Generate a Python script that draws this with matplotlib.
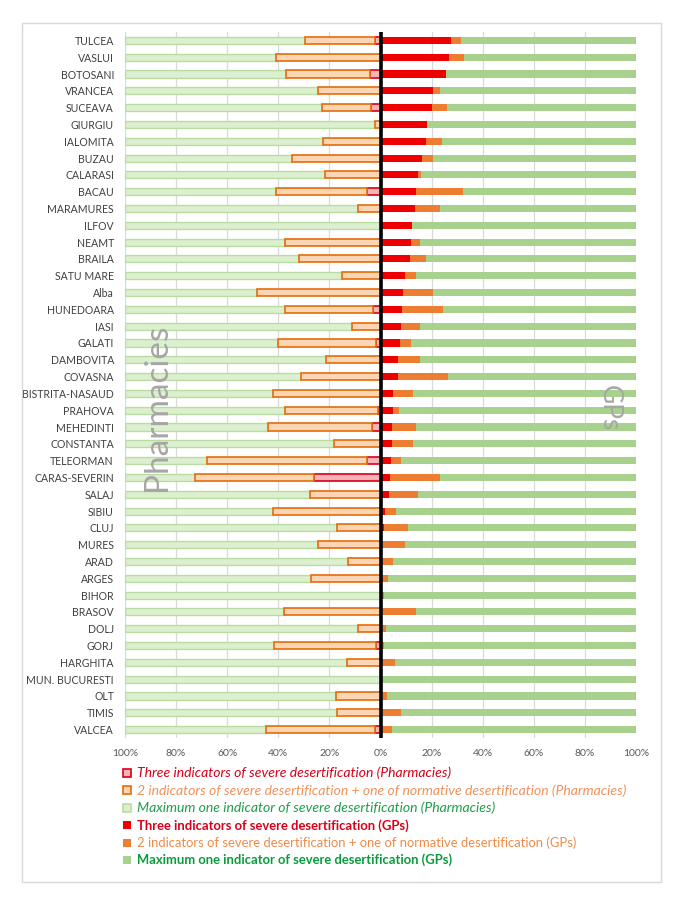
import matplotlib
matplotlib.use("Agg")
import matplotlib.pyplot as plt
from matplotlib.patches import Rectangle
import numpy as np

plt.rcParams['font.family'] = ['Lato', 'DejaVu Sans']

counties = ["TULCEA", "VASLUI", "BOTOSANI", "VRANCEA", "SUCEAVA", "GIURGIU", "IALOMITA",
            "BUZAU", "CALARASI", "BACAU", "MARAMURES", "ILFOV", "NEAMT", "BRAILA",
            "SATU MARE", "Alba", "HUNEDOARA", "IASI", "GALATI", "DAMBOVITA", "COVASNA",
            "BISTRITA-NASAUD", "PRAHOVA", "MEHEDINTI", "CONSTANTA", "TELEORMAN",
            "CARAS-SEVERIN", "SALAJ", "SIBIU", "CLUJ", "MURES", "ARAD", "ARGES", "BIHOR",
            "BRASOV", "DOLJ", "GORJ", "HARGHITA", "MUN. BUCURESTI", "OLT", "TIMIS", "VALCEA"]

# pharmacies (% of localities)
ph_three = [2.3, 0, 4.1, 0, 3.8, 0, 0, 0, 0, 5.4, 0, 0, 0, 0, 0, 0, 3.1, 0, 1.6, 0, 0,
            0, 1.0, 3.3, 0, 5.1, 26.0, 0, 0, 0, 0, 0, 0, 0, 0, 0, 1.6, 0, 0, 0, 0, 2.3]
ph_two = [27.2, 40.9, 33.0, 24.6, 19.0, 2.0, 22.7, 34.6, 21.8, 35.5, 8.7, 0, 37.4, 32.0,
          15.1, 48.4, 34.4, 11.2, 38.4, 21.4, 31.1, 42.0, 36.4, 40.6, 18.3, 62.7, 46.6,
          27.5, 42.2, 17.2, 24.4, 12.8, 27.1, 0, 37.8, 8.7, 39.9, 13.2, 0, 17.6, 16.9, 42.5]

# GPs (% of localities)
gp_three = [27.5, 26.8, 25.7, 20.7, 20.2, 18.3, 18.0, 16.1, 14.7, 14.0, 13.4, 12.5, 11.9,
            11.5, 9.6, 8.7, 8.6, 8.0, 7.6, 6.7, 6.7, 4.8, 4.8, 4.5, 4.4, 4.1, 3.8, 3.2,
            1.7, 1.3, 0.5, 0, 0, 0, 0, 0, 0, 0, 0, 0, 0, 0]
gp_two = [3.9, 5.8, 0, 2.4, 6.0, 0, 6.1, 4.3, 1.2, 18.3, 10.0, 0, 3.5, 6.4, 4.2, 11.8,
          16.0, 7.3, 4.5, 8.9, 19.8, 7.9, 2.6, 9.2, 8.4, 3.8, 19.6, 11.5, 4.3, 9.6, 9.2,
          4.9, 2.8, 1.2, 14.0, 2.0, 1.3, 5.8, 0, 2.6, 8.0, 4.5]

legend_labels = [
    "Three indicators of severe desertification (Pharmacies)",
    "2 indicators of severe desertification + one of normative desertification (Pharmacies)",
    "Maximum one indicator of severe desertification (Pharmacies)",
    "Three indicators of severe desertification (GPs)",
    "2 indicators of severe desertification + one of normative desertification (GPs)",
    "Maximum one indicator of severe desertification (GPs)",
]

ph_three = np.array(ph_three)
ph_two = np.array(ph_two)
ph_max = 100 - ph_three - ph_two
gp_three = np.array(gp_three)
gp_two = np.array(gp_two)
gp_max = 100 - gp_three - gp_two

# fill, edge colours for the six series
styles = [("#f7b3b8", "#d8001a"), ("#fcd5b4", "#e46c0a"), ("#dcefcf", "#b9dca2"),
          ("#ee0000", "none"), ("#ed7d31", "none"), ("#a9d18e", "none")]
text_colors = ["#d8001a", "#f0925a", "#1e9e4a", "#d8001a", "#ee8a48", "#0b9a3c"]

y = np.arange(len(counties))
h = 0.42

fig = plt.figure(figsize=(6.78, 9), dpi=100)
ax = fig.add_axes([125 / 678, 1 - 738 / 900, 511 / 678, 706 / 900])

# pharmacies, left side
ax.barh(y, -ph_three, height=h, color=styles[0][0], edgecolor=styles[0][1], linewidth=1.2, zorder=3)
ax.barh(y, -ph_two, left=-ph_three, height=h, color=styles[1][0], edgecolor=styles[1][1],
        linewidth=1.2, zorder=3)
ax.barh(y, -ph_max, left=-(ph_three + ph_two), height=h, color=styles[2][0],
        edgecolor=styles[2][1], linewidth=1.0, zorder=2)

# GPs, right side
ax.barh(y, gp_three, height=h, color=styles[3][0], zorder=3)
ax.barh(y, gp_two, left=gp_three, height=h, color=styles[4][0], zorder=3)
ax.barh(y, gp_max, left=gp_three + gp_two, height=h, color=styles[5][0], zorder=3)

ax.axvline(0, color="black", linewidth=2.6, zorder=5)

ax.set_xlim(-100, 100)
ax.set_ylim(len(counties) - 0.5, -0.5)
ticks = np.arange(-100, 101, 20)
ax.set_xticks(ticks)
ax.set_xticklabels([f"{abs(t)}%" for t in ticks], fontsize=7.5, color="#595959")
ax.set_yticks(y)
ax.set_yticklabels(counties, fontsize=7.6, color="#404040",
                   family=["Liberation Sans Narrow", "Lato", "DejaVu Sans"])
ax.tick_params(length=0, pad=8)
ax.xaxis.grid(True, color="#d9d9d9", linewidth=0.9, zorder=0)
ax.set_axisbelow(True)
for s in ax.spines.values():
    s.set_visible(False)

ax.text(-87.5, 21.8, "Pharmacies", rotation=90, fontsize=24, color="#a6a6a6",
        ha="center", va="center", zorder=6)
ax.text(89.5, 21.9, "GPs", rotation=-90, fontsize=19, color="#a6a6a6",
        ha="center", va="center", zorder=6)

# legend below the chart
for i, lab in enumerate(legend_labels):
    yc = 1 - (773 + i * 17.4) / 900
    fc, ec = styles[i]
    fig.patches.append(Rectangle((123 / 678, yc - 4 / 900), 8 / 678, 8 / 900,
                                 transform=fig.transFigure, facecolor=fc,
                                 edgecolor=ec, linewidth=1.2))
    if i < 3:
        fig.text(137 / 678, yc, lab, fontsize=10.1, style="italic", color=text_colors[i],
                 va="center", ha="left")
    else:
        fig.text(137 / 678, yc, lab, fontsize=9.4, color=text_colors[i], va="center",
                 ha="left", fontweight="normal" if i == 4 else "bold")

fig.patches.append(Rectangle((22 / 678, 1 - 882 / 900), 639 / 678, 859 / 900,
                             transform=fig.transFigure, fill=False,
                             edgecolor="#d9d9d9", linewidth=1.0))

fig.savefig("out.png", dpi=100)
